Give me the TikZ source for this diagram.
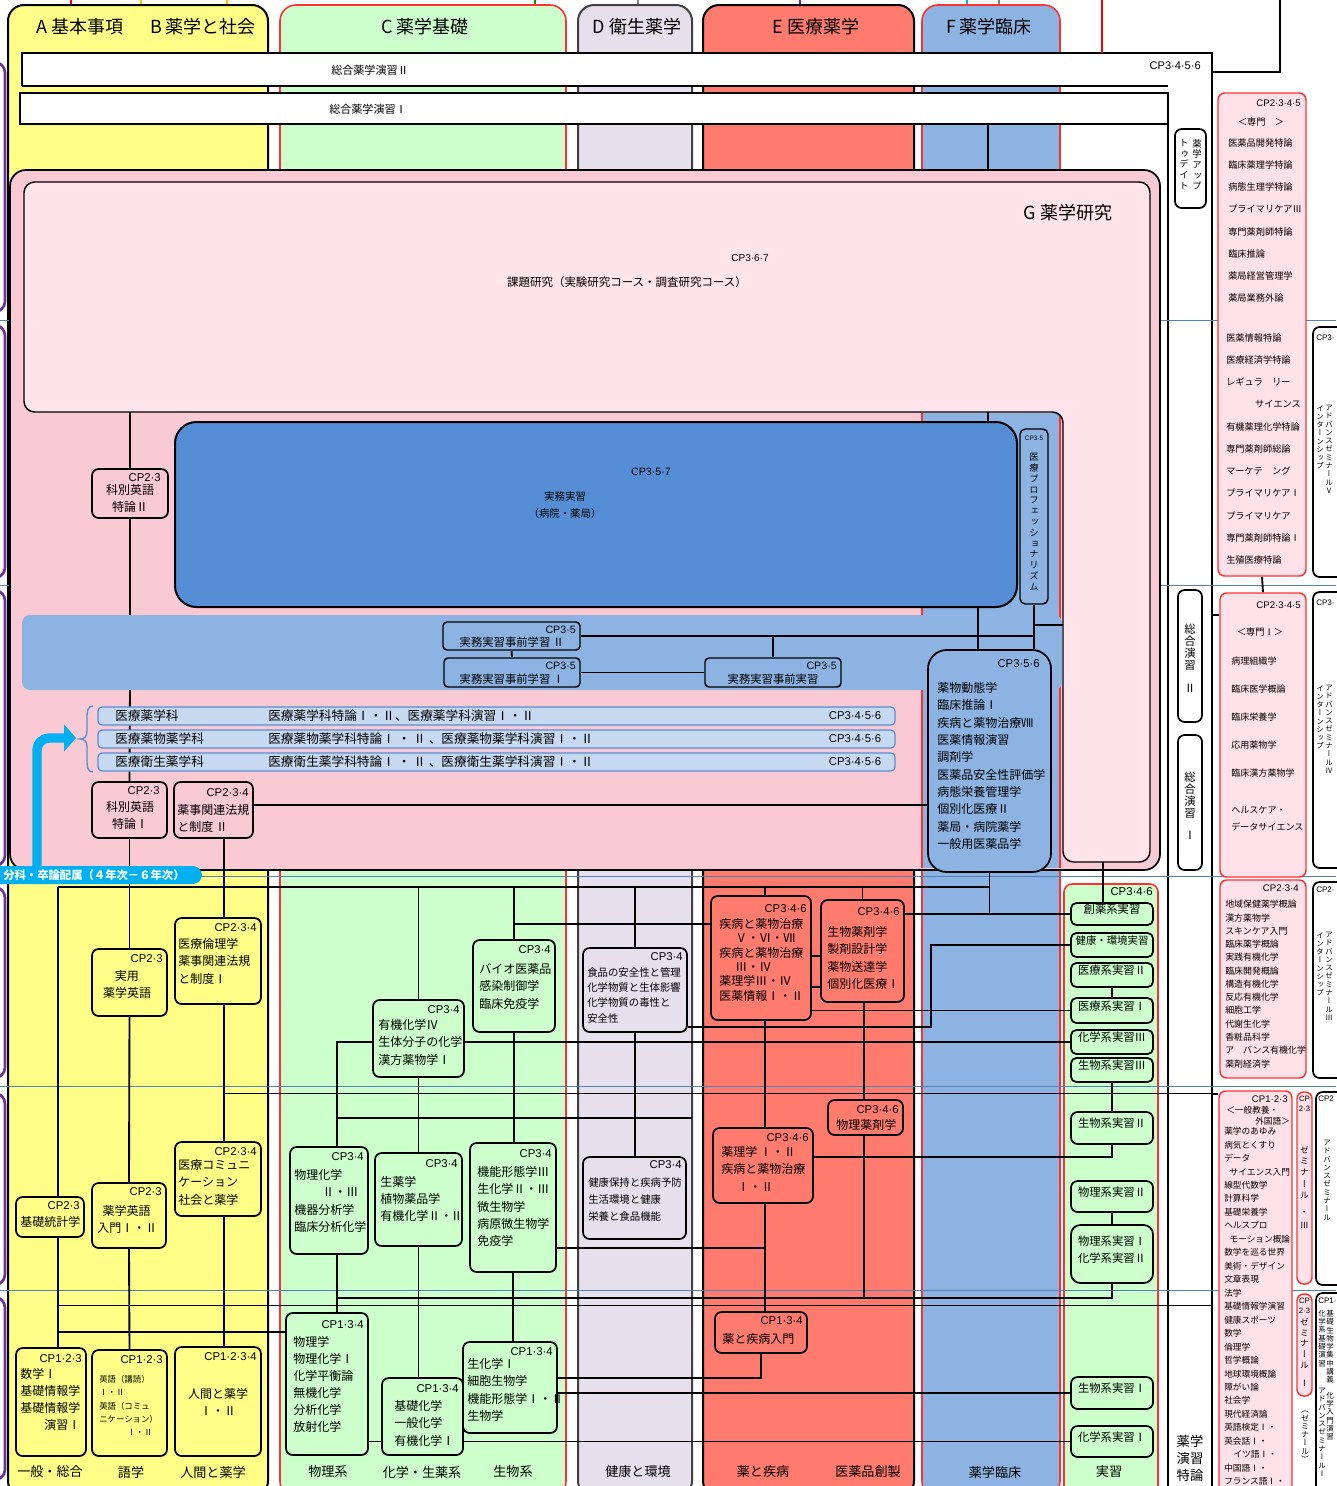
\documentclass[tikz,border=0pt]{standalone}
\usepackage{fontspec}
\setmainfont{Noto Sans CJK JP}
\newfontfamily\latf{Liberation Sans}
\newfontfamily\vjp[RawFeature=+vert]{Noto Sans CJK JP}
\usetikzlibrary{fit,arrows.meta}
\pgfdeclarelayer{back}
\pgfdeclarelayer{mid}
\pgfsetlayers{back,mid,main}
\definecolor{cYel}{HTML}{FFFF88}
\definecolor{cGrn}{HTML}{CCFFCC}
\definecolor{cLav}{HTML}{E5E0EC}
\definecolor{cRed}{HTML}{FF7B6E}
\definecolor{cBlu}{HTML}{8DB3E2}
\definecolor{cDBl}{HTML}{558ED5}
\definecolor{cPkG}{HTML}{F9C9D4}
\definecolor{cPkL}{HTML}{FFE4EB}
\definecolor{cPkR}{HTML}{FFE2E9}
\definecolor{cRln}{HTML}{FF3030}
\definecolor{cCyn}{HTML}{00B0F0}
\definecolor{cRow}{HTML}{C6D9F1}
\definecolor{cPur}{HTML}{7030A0}
\definecolor{cBL}{HTML}{4F81BD}
\definecolor{cOrg}{HTML}{FFC000}
\tikzset{
  ln/.style={line width=1.4pt},
  tn/.style={line width=0.75pt},
  bx/.style={draw=black, line width=1.3pt, rounded corners=5pt, inner sep=0pt, fit={#1}},
  pbx/.style={draw=cRln, line width=1.1pt, rounded corners=5pt, inner sep=0pt, fill=cPkR, fit={#1}},
  tx/.style={inner sep=0pt, align=left, anchor=north west},
  tc/.style={inner sep=0pt, align=center, anchor=center},
  cpst/.style={inner sep=0pt, anchor=east},
  hd/.style={inner sep=0pt, font=\fontsize{13.5}{15}\selectfont},
  lb/.style={inner sep=0pt, font=\fontsize{9.8}{11}\selectfont},
  vt/.style={inner sep=0pt, align=center, anchor=north},
  wcp/.style={inner sep=0pt, anchor=west, font=\latf\fontsize{6}{6.5}\selectfont},
}
\newcommand\TX[6]{\node[tx, font=\fontsize{#4}{#5}\selectfont] (#1) at (#2,#3) {#6};}
\newcommand\TC[6]{\node[tc, font=\fontsize{#4}{#5}\selectfont] (#1) at (#2,#3) {#6};}
\newcommand\CP[5]{\node[cpst, font=\latf\fontsize{#4}{#4}\selectfont] (#1) at (#2,#3) {#5};}
\newcommand\VT[6]{\node[vt, font=\vjp\fontsize{#4}{#5}\selectfont] (#1) at (#2,#3) {#6};}
\begin{document}
\begin{tikzpicture}[x=0.75pt,y=-0.75pt]
\useasboundingbox (0,0) rectangle (1336,1486);
\coordinate (x58) at (58,0);
\coordinate (x224) at (224,0);
\coordinate (x337) at (337,0);
\coordinate (x692) at (692,0);
\coordinate (x765) at (765,0);
\coordinate (x864) at (864,0);
\coordinate (x931) at (931,0);
\coordinate (x978) at (978,0);
\coordinate (x988) at (988,0);
\coordinate (x1063) at (1063,0);
\coordinate (x1103) at (1103,0);
\coordinate (x1212) at (1212,0);
\coordinate (y124) at (0,124);
\coordinate (y170) at (0,170);
\coordinate (y412) at (0,412);
\coordinate (y615) at (0,615);
\coordinate (y625) at (0,625);
\coordinate (y690) at (0,690);
\coordinate (y805) at (0,805);
\coordinate (y862) at (0,862);
\coordinate (y887) at (0,887);
\coordinate (y924) at (0,924);
\coordinate (y956) at (0,956);
\coordinate (y987) at (0,987);
\coordinate (y1027) at (0,1027);
\coordinate (y1093) at (0,1093);
\coordinate (y1094) at (0,1094);
\coordinate (y1118) at (0,1118);
\coordinate (y1157) at (0,1157);
\coordinate (y1248) at (0,1248);
\coordinate (y1298) at (0,1298);
\coordinate (y1305) at (0,1305);
\coordinate (y1332) at (0,1332);
\coordinate (y1378) at (0,1378);

% ================= BACK LAYER =================
\begin{pgfonlayer}{back}
\foreach \a/\b in {62/312,325/578,590/866,887/1078,1093/1285,1297/1480}
  \draw[cPur, line width=2pt, fill=white, rounded corners=8pt] (-40,\a) rectangle (5,\b);
\draw[line width=1.3pt, red] (71,0) -- (71,6);
\draw[line width=1.3pt, cOrg] (141,0) -- (141,6);
\draw[line width=1.3pt, cOrg] (227,0) -- (227,6);
\draw[line width=1.3pt, green!60!black] (535,0) -- (535,6);
\draw[line width=1.3pt, gray] (638,0) -- (638,6);
\draw[line width=1.3pt, cPur] (800,0) -- (800,6);
\draw[line width=1.3pt, cCyn] (967,0) -- (967,6);
\draw[line width=1.3pt, gray] (999,0) -- (999,6);
% columns
\draw[line width=1.5pt, fill=cYel, rounded corners=12pt] (8,5) rectangle (268,1497);
\draw[line width=1.2pt, draw=cRln, fill=cGrn, rounded corners=12pt] (280,5) rectangle (566,1497);
\draw[line width=1.5pt, draw=black!75, fill=cLav, rounded corners=12pt] (578,5) rectangle (692,1497);
\draw[line width=1.5pt, fill=cRed, rounded corners=12pt] (703,5) rectangle (914,1497);
\draw[line width=1.2pt, draw=cRln, fill=cBlu, rounded corners=12pt] (922,5) rectangle (1060,1497);
\draw[line width=1.2pt, draw=cRln, fill=cGrn, rounded corners=6pt] (1064,884) rectangle (1158,1497);
% sogo bars
\fill[white] (22,53) -- (1212,53) -- (1212,1497) -- (1168,1497) -- (1168,86) -- (22,86) -- cycle;
\draw[line width=1.3pt] (22,86) -- (22,53) -- (1212,53) -- (1212,1497);
\draw[line width=1.3pt] (22,86) -- (1168,86);
\fill[white] (20,93) rectangle (1168,124);
\draw[line width=1.3pt] (1168,1497) -- (1168,93) -- (20,93) -- (20,124) -- (1168,124);
\draw[line width=1.1pt, red] (1102,0) -- (1102,53);
\draw[line width=1.3pt] (1280,0) -- (1280,72) -- (1212,72);
% year lines
\foreach \y in {320,585,876,1086,1290}
  \draw[cBL, line width=0.7pt] (0,\y) -- (1336,\y);
% G region
\draw[line width=1.3pt, fill=cPkG, rounded corners=12pt] (10,170) rectangle (1160,870);
\fill[cBlu] (922,413) rectangle (1060,868);
\draw[cRln, line width=1pt] (922,413) -- (922,868) (1060,413) -- (1060,868);
\draw[line width=1.1pt, fill=cPkL, rounded corners=8pt] (24,182) -- (1150,182) -- (1150,862) -- (1063,862) -- (1063,412) -- (24,412) -- cycle;
\fill[cBlu, rounded corners=6pt] (22,615) rectangle (1062,690);
\end{pgfonlayer}

% ================= MAIN LAYER =================
\node[hd] (hA) at (80,27) {A 基本事項};
\node[hd] (hB) at (203,27) {B 薬学と社会};
\node[hd] (hC) at (425,27) {C 薬学基礎};
\node[hd] (hD) at (637,27) {D 衛生薬学};
\node[hd] (hE) at (816,27) {E 医療薬学};
\node[hd] (hF) at (989,27) {F 薬学臨床};
\TC{soII}{370}{70}{8.3}{9}{総合薬学演習Ⅱ}
\CP{cpII}{1201}{66}{8.3}{CP3·4·5·6}
\TC{soI}{368}{109}{8.3}{9}{総合薬学演習Ⅰ}

% strip boxes
\node[bx={(1175,129)(1206,208)}, fill=white] (upd) {};
\VT{upd1}{1197}{139}{7}{8}{薬\\学\\ア\\ッ\\プ}
\VT{upd2}{1184}{139}{7}{8}{ト\\ゥ\\デ\\イ\\ト}
\node[bx={(1178,590)(1202,722)}, fill=white] (sgII) {};
\VT{sgIIt}{1190}{624}{8.5}{8.8}{総\\合\\演\\習}
\TC{sgIIn}{1190}{688}{8.5}{9}{Ⅱ}
\node[bx={(1178,735)(1202,870)}, fill=white] (sgI) {};
\VT{sgIt}{1190}{772}{8.5}{8.8}{総\\合\\演\\習}
\TC{sgIn}{1190}{835}{8.5}{9}{Ⅰ}
\TC{ensh}{1190}{1458}{10}{12.75}{薬学\\演習\\特論}

% right pink boxes
\node[pbx={(1218,93)(1306,576)}] (pk1) {};
\CP{pk1c}{1301}{103}{7.2}{CP2·3·4·5}
\TC{pk1h}{1261}{122}{6.9}{8}{＜専門　＞}
\TX{pk1a}{1228}{138}{6.9}{16.7}{医薬品開発特論\\臨床薬理学特論\\病態生理学特論\\プライマリケアⅢ\\専門薬剤師特論\\臨床推論\\薬局経営管理学\\薬局業務外論}
\TX{pk1b}{1226}{333}{6.9}{16.7}{医薬情報特論\\医療経済学特論\\レギュラ　リー\\\hspace*{21.7pt}サイエンス\\有機薬理化学特論\\専門薬剤師総論\\マーケテ　ング\\プライマリケアⅠ\\プライマリケア\\専門薬剤師特論Ⅰ\\生殖医療特論}
\node[pbx={(1220,593)(1306,877)}] (pk2) {};
\CP{pk2c}{1301}{605}{7.2}{CP2·3·4·5}
\TC{pk2h}{1260}{632}{6.9}{8}{＜専門Ⅰ＞}
\TX{pk2a}{1231}{657}{6.8}{21}{病理組織学\\臨床医学概論\\臨床栄養学\\応用薬物学\\臨床漢方薬物学}
\TX{pk2b}{1231}{806}{6.8}{12.75}{ヘルスケア・\\データサイエンス}
\node[pbx={(1220,880)(1306,1078)}] (pk3) {};
\CP{pk3c}{1299}{888}{7.2}{CP2·3·4}
\TX{pk3a}{1225}{900}{6.7}{9.95}{地域保健薬学概論\\漢方薬物学\\スキンケア入門\\臨床薬学概論\\実践有機化学\\臨床開発概論\\構造有機化学\\反応有機化学\\細胞工学\\代謝生化学\\香粧品科学\\ア　バンス有機化学\\薬剤経済学}
\node[pbx={(1219,1091)(1292,1500)}] (pk4) {};
\CP{pk4c}{1288}{1099}{7.2}{CP1·2·3}
\TX{pk4h1}{1226}{1106}{6.5}{8}{＜一般教養・}
\TX{pk4h2}{1255}{1117}{6.5}{8}{外国語＞}
\TX{pk4a}{1224}{1127}{6.5}{10.1}{薬学のあゆみ\\病気とくすり\\データ\\\hspace*{4pt}サイエンス入門\\線型代数学\\計算科学\\基礎栄養学\\ヘルスプロ\\\hspace*{4pt}モーション概論\\数学を巡る世界\\美術・デザイン\\文章表現\\法学\\基礎情報学演習\\健康スポーツ\\数学\\倫理学\\哲学概論\\地球環境概論\\障がい論\\社会学\\現代経済論\\英語検定Ⅰ・\\英会話Ⅰ・\\\hspace*{7pt}イツ語Ⅰ・\\中国語Ⅰ・\\フランス語Ⅰ・}
\node[pbx={(1297,1092)(1312,1284)}] (pk5) {};
\TC{pk5c}{1304.5}{1104}{5.8}{7.5}{\latf CP\\\latf 2·3}
\VT{pk5t}{1304.5}{1146}{6.5}{8.4}{ゼ\\ミ\\ナ\\ー\\ル}
\VT{pk5u}{1304.5}{1211}{6.5}{9.75}{・\\Ⅲ}
\node[pbx={(1297,1294)(1312,1396)}] (pk6) {};
\TC{pk6c}{1304.5}{1306}{5.8}{7.5}{\latf CP\\\latf 2·3}
\VT{pk6t}{1304.5}{1318}{6.5}{8}{ゼ\\ミ\\ナ\\ー\\ル}
\TC{pk6u}{1304.5}{1383}{6.5}{8}{Ⅰ}
\VT{pk7}{1305}{1411}{6}{6.2}{（\\ゼ\\ミ\\ナ\\ー\\ル\\）}

% right white boxes (cut off by the page edge)
\node[bx={(1313,327)(1370,577)}, fill=white] (wb1) {};
\node[wcp] (wb1c) at (1316,338) {CP3·};
\VT{wb1a}{1320}{405}{5.6}{6.2}{イ\\ン\\タ\\ー\\ン\\シ\\ッ\\プ}
\VT{wb1b}{1329}{405}{5.6}{6.2}{ア\\ド\\バ\\ン\\ス\\ゼ\\ミ\\ナ\\ー\\ル\\Ⅴ}
\node[bx={(1313,592)(1370,868)}, fill=white] (wb2) {};
\node[wcp] (wb2c) at (1316,603) {CP3·};
\VT{wb2a}{1320}{685}{5.6}{6.2}{イ\\ン\\タ\\ー\\ン\\シ\\ッ\\プ}
\VT{wb2b}{1329}{685}{5.6}{6.2}{ア\\ド\\バ\\ン\\ス\\ゼ\\ミ\\ナ\\ー\\ル\\Ⅳ}
\node[bx={(1313,882)(1370,1078)}, fill=white] (wb3) {};
\node[wcp] (wb3c) at (1316,890) {CP2·};
\VT{wb3a}{1320}{932}{5.6}{6.2}{イ\\ン\\タ\\ー\\ン\\シ\\ッ\\プ}
\VT{wb3b}{1329}{932}{5.6}{6.2}{ア\\ド\\バ\\ン\\ス\\ゼ\\ミ\\ナ\\ー\\ル\\Ⅲ}
\node[bx={(1316,1092)(1370,1285)}, fill=white] (wb4) {};
\node[wcp] (wb4c) at (1318,1099) {CP2};
\VT{wb4a}{1327}{1140}{5.6}{6.2}{ア\\ド\\バ\\ン\\ス\\ゼ\\ミ\\ナ\\ー\\ル}
\node[bx={(1316,1293)(1370,1495)}, fill=white] (wb5) {};
\node[wcp] (wb5c) at (1318,1301) {CP1·};
\VT{wb5a}{1322}{1310}{5.6}{6.2}{化\\学\\系\\基\\礎\\演\\習}
\VT{wb5b}{1330}{1310}{5.6}{6.2}{基\\礎\\生\\物\\学\\集\\中\\講\\義}
\VT{wb5d}{1322}{1388}{5.6}{6.2}{ア\\ド\\バ\\ン\\ス\\ゼ\\ミ\\ナ\\ー\\ル\\Ⅰ}
\VT{wb5e}{1330}{1392}{5.6}{6.2}{化\\学\\入\\門\\演\\習}

% G texts
\node[hd] (gt) at (1068,213) {G 薬学研究};
\node[inner sep=0pt, font=\latf\fontsize{7.5}{8}\selectfont] (gcp) at (750,258) {CP3·6·7};
\TC{gk}{627}{282}{8.6}{9}{課題研究（実験研究コース・調査研究コース）}

% G boxes
\node[bx={(92,469)(168,518)}, fill=cPkG] (kbe2) {};
\CP{kbe2c}{161}{478}{8.5}{CP2·3}
\TC{kbe2t}{130}{498}{9}{12.75}{科別英語\\特論Ⅱ}
\node[bx={(175,422)(1017,607)}, fill=cDBl, rounded corners=16pt, line width=1.5pt] (jmj) {};
\node[inner sep=0pt, font=\latf\fontsize{8}{8}\selectfont] (jmjc) at (651,472) {CP3·5·7};
\TC{jmjt}{565}{505}{7.8}{12.75}{実務実習\\（病院・薬局）}
\node[bx={(1020,429)(1048,604)}, fill=cBlu, rounded corners=4pt, line width=1.1pt] (prof) {};
\node[inner sep=0pt, font=\latf\fontsize{4.8}{5}\selectfont] (profc) at (1034,438) {CP3·5};
\VT{proft}{1034}{453}{7}{8.1}{医\\療\\プ\\ロ\\フ\\ェ\\ッ\\シ\\ョ\\ナ\\リ\\ズ\\ム}
\node[bx={(443,622)(580,650)}, fill=cBlu, rounded corners=3pt, line width=1.1pt] (jzg2) {};
\CP{jzg2c}{576}{630}{8}{CP3·5}
\TC{jzg2t}{512}{642}{8.5}{9}{実務実習事前学習 Ⅱ}
\node[bx={(444,658)(580,687)}, fill=cBlu, rounded corners=3pt, line width=1.1pt] (jzg1) {};
\CP{jzg1c}{576}{666}{8}{CP3·5}
\TC{jzg1t}{512}{679}{8.5}{9}{実務実習事前学習 Ⅰ}
\node[bx={(705,658)(841,687)}, fill=cBlu, rounded corners=3pt, line width=1.1pt] (jzj) {};
\CP{jzjc}{837}{666}{8}{CP3·5}
\TC{jzjt}{773}{679}{8.5}{9}{実務実習事前実習}
\node[bx={(928,650)(1051,872)}, fill=cBlu, rounded corners=14pt] (c356) {};
\CP{c356c}{1040}{664}{8.5}{CP3·5·6}
\TX{c356t}{937}{682}{9}{13}{薬物動態学\\臨床推論Ⅰ\\疾病と薬物治療Ⅷ\\医薬情報演習\\調剤学\\医薬品安全性評価学\\病態栄養管理学\\個別化医療Ⅱ\\薬局・病院薬学\\一般用医薬品学}
% rows
\node[draw=cDBl, line width=0.9pt, fill=cRow, rounded corners=3pt, inner sep=0pt, fit={(98,707)(895,725)}] (r1) {};
\node[draw=cDBl, line width=0.9pt, fill=cRow, rounded corners=3pt, inner sep=0pt, fit={(98,730)(895,748)}] (r2) {};
\node[draw=cDBl, line width=0.9pt, fill=cRow, rounded corners=3pt, inner sep=0pt, fit={(98,753)(895,771)}] (r3) {};
\node[inner sep=0pt, anchor=west, font=\fontsize{9.5}{10}\selectfont] (r1a) at (115,716) {医療薬学科};
\node[inner sep=0pt, anchor=west, font=\fontsize{9.5}{10}\selectfont] (r1b) at (268,716) {医療薬学科特論Ⅰ・Ⅱ、医療薬学科演習Ⅰ・Ⅱ};
\node[inner sep=0pt, font=\latf\fontsize{8.5}{9}\selectfont] (r1c) at (855,716) {CP3·4·5·6};
\node[inner sep=0pt, anchor=west, font=\fontsize{9.5}{10}\selectfont] (r2a) at (115,739) {医療薬物薬学科};
\node[inner sep=0pt, anchor=west, font=\fontsize{9.5}{10}\selectfont] (r2b) at (268,739) {医療薬物薬学科特論Ⅰ ・ Ⅱ 、医療薬物薬学科演習Ⅰ・Ⅱ};
\node[inner sep=0pt, font=\latf\fontsize{8.5}{9}\selectfont] (r2c) at (855,739) {CP3·4·5·6};
\node[inner sep=0pt, anchor=west, font=\fontsize{9.5}{10}\selectfont] (r3a) at (115,762) {医療衛生薬学科};
\node[inner sep=0pt, anchor=west, font=\fontsize{9.5}{10}\selectfont] (r3b) at (268,762) {医療衛生薬学科特論Ⅰ ・ Ⅱ 、医療衛生薬学科演習Ⅰ・Ⅱ};
\node[inner sep=0pt, font=\latf\fontsize{8.5}{9}\selectfont] (r3c) at (855,762) {CP3·4·5·6};
\draw[cDBl, line width=1pt] (93,706) .. controls (87,706) and (87,712) .. (87,720) -- (87,731) .. controls (87,737) and (84,739) .. (80,739) .. controls (84,739) and (87,741) .. (87,747) -- (87,758) .. controls (87,766) and (87,772) .. (93,772);
\node[bx={(92,782)(167,838)}, fill=cPkG] (kbe1) {};
\CP{kbe1c}{160}{791}{8.5}{CP2·3}
\TC{kbe1t}{130}{815}{9}{12.75}{科別英語\\特論Ⅰ}
\node[bx={(174,782)(253,838)}, fill=cPkG] (yjh2) {};
\CP{yjh2c}{249}{793}{8.5}{CP2·3·4}
\TX{yjh2t}{177}{804}{9}{12.75}{薬事関連法規\\と制度 Ⅱ}
% cyan arrow + label
\coordinate (arrS) at (37,872);
\coordinate (arrE) at (76,738);
\draw[cCyn, line width=7pt, rounded corners=9pt, -{Triangle[length=9pt,width=20pt]}] (arrS) |- (arrE);
\node[fill=cCyn, rounded corners=7pt, inner sep=0pt, fit={(-12,866)(202,884)}] (cyl) {};
\node[inner sep=0pt, anchor=west, text=white, font=\bfseries\fontsize{8.5}{9}\selectfont] (cylt) at (3,875) {分科・卒論配属（４年次－６年次）};

% ===== lower boxes: yellow =====
\node[bx={(92,949)(167,1016)}, fill=cYel] (jyo) {};
\CP{jyoc}{163}{959}{8.5}{CP2·3}
\TC{jyot}{127}{984}{9}{12.75}{実用\\薬学英語}
\node[bx={(175,918)(261,1004)}, fill=cYel] (rin) {};
\CP{rinc}{257}{928}{8.5}{CP2·3·4}
\TX{rint}{178}{938}{9}{13.1}{医療倫理学\\薬事関連法規\\と制度Ⅰ}
\node[bx={(175,1142)(261,1216)}, fill=cYel] (com) {};
\CP{comc}{257}{1152}{8.5}{CP2·3·4}
\TX{comt}{178}{1159}{9}{13.1}{医療コミュニ\\ケーション\\社会と薬学}
\node[bx={(16,1197)(84,1237)}, fill=cYel] (tok) {};
\CP{tokc}{80}{1206}{8.5}{CP2·3}
\TX{tokt}{20}{1216}{9}{10}{基礎統計学}
\node[bx={(92,1183)(166,1248)}, fill=cYel] (nyu) {};
\CP{nyuc}{162}{1192}{8.5}{CP2·3}
\TX{nyut}{97}{1205}{9}{12.75}{\hspace*{4pt}薬学英語\\入門Ⅰ・Ⅱ}
\node[bx={(16,1348)(86,1456)}, fill=cYel] (sug) {};
\CP{sugc}{82}{1359}{8.5}{CP1·2·3}
\TX{sugt}{20}{1368}{9}{12.75}{数学Ⅰ\\基礎情報学\\基礎情報学\\\hspace*{18pt}演習Ⅰ}
\node[bx={(92,1350)(167,1456)}, fill=cYel] (eig) {};
\CP{eigc}{163}{1360}{8.5}{CP1·2·3}
\TX{eigt}{99}{1375}{6.3}{10}{英語（講読）\\Ⅰ・Ⅱ\\英語（コミュ\\ニケーション）\\\hspace*{21pt}Ⅰ・Ⅱ}
\node[bx={(175,1347)(261,1456)}, fill=cYel] (nin) {};
\CP{ninc}{257}{1357}{8.5}{CP1·2·3·4}
\TC{nint}{218}{1402}{9}{13.1}{人間と薬学\\Ⅰ・Ⅱ}

% ===== green =====
\node[bx={(373,1000)(464,1077)}, fill=cGrn] (yk4) {};
\CP{yk4c}{460}{1010}{8.5}{CP3·4}
\TX{yk4t}{378}{1019}{9}{13.1}{有機化学Ⅳ\\生体分子の化学\\漢方薬物学Ⅰ}
\node[bx={(473,940)(555,1032)}, fill=cGrn] (bio) {};
\CP{bioc}{551}{950}{8.5}{CP3·4}
\TX{biot}{479}{963}{9}{13}{バイオ医薬品\\感染制御学\\臨床免疫学}
\node[bx={(290,1147)(368,1254)}, fill=cGrn] (bk) {};
\CP{bkc}{364}{1157}{8.5}{CP3·4}
\TX{bkt}{294}{1169}{9}{13.1}{物理化学\\\hspace*{21pt}Ⅱ・Ⅲ\\機器分析学\\臨床分析化学}
\node[bx={(375,1153)(462,1246)}, fill=cGrn] (sy) {};
\CP{syc}{458}{1164}{8.5}{CP3·4}
\TX{syt}{380}{1176}{9}{12.9}{生薬学\\植物薬品学\\有機化学Ⅱ・Ⅲ}
\node[bx={(470,1143)(556,1272)}, fill=cGrn] (kk3) {};
\CP{kk3c}{552}{1154}{8.5}{CP3·4}
\TX{kk3t}{477}{1166}{9}{13}{機能形態学Ⅲ\\生化学Ⅱ・Ⅲ\\微生物学\\病原微生物学\\免疫学}
\node[bx={(286,1313)(368,1455)}, fill=cGrn] (but) {};
\CP{butc}{364}{1325}{8.5}{CP1·3·4}
\TX{butt}{293}{1336}{9}{12.75}{物理学\\物理化学Ⅰ\\化学平衡論\\無機化学\\分析化学\\放射化学}
\node[bx={(382,1378)(463,1455)}, fill=cGrn] (kis) {};
\CP{kisc}{459}{1389}{8.5}{CP1·3·4}
\TX{kist}{394}{1400}{9}{13.1}{基礎化学\\一般化学\\有機化学Ⅰ}
\node[bx={(463,1342)(557,1433)}, fill=cGrn] (sk1) {};
\CP{sk1c}{553}{1352}{8.5}{CP1·3·4}
\TX{sk1t}{467}{1358}{9}{13}{生化学Ⅰ\\細胞生物学\\機能形態学Ⅰ・Ⅱ\\生物学}

% ===== D =====
\node[bx={(583,948)(687,1032)}, fill=cLav] (syk) {};
\CP{sykc}{683}{957}{8.5}{CP3·4}
\TX{sykt}{587}{967}{7.8}{11.5}{食品の安全性と管理\\化学物質と生体影響\\化学物質の毒性と\\安全性}
\node[bx={(583,1157)(686,1239)}, fill=cLav] (kkh) {};
\CP{kkhc}{682}{1165}{8.5}{CP3·4}
\TX{kkht}{588}{1177}{7.8}{13.1}{健康保持と疾病予防\\生活環境と健康\\栄養と食品機能}

% ===== E =====
\node[bx={(711,896)(811,1020)}, fill=cRed] (sb5) {};
\CP{sb5c}{807}{909}{8.5}{CP3·4·6}
\TX{sb5t}{719}{918}{9}{10.8}{疾病と薬物治療\\\hspace*{12pt}Ⅴ・Ⅵ・Ⅶ\\疾病と薬物治療\\\hspace*{12pt}Ⅲ・Ⅳ\\薬理学Ⅲ・Ⅳ\\医薬情報Ⅰ・Ⅱ}
\node[bx={(821,900)(904,1002)}, fill=cRed] (bpp) {};
\CP{bppc}{900}{912}{8.5}{CP3·4·6}
\TX{bppt}{827}{926}{9}{13}{生物薬剤学\\製剤設計学\\薬物送達学\\個別化医療Ⅰ}
\node[bx={(828,1100)(903,1135)}, fill=cRed] (bty) {};
\CP{btyc}{899}{1110}{8.5}{CP3·4·6}
\TX{btyt}{836}{1119}{9}{10}{物理薬剤学}
\node[bx={(713,1128)(813,1203)}, fill=cRed] (yr1) {};
\CP{yr1c}{809}{1138}{8.5}{CP3·4·6}
\TX{yr1t}{721}{1146}{9}{13.1}{薬理学 Ⅰ・Ⅱ\\疾病と薬物治療\\\hspace*{12pt}Ⅰ・Ⅱ}
\node[bx={(715,1312)(807,1353)}, fill=cRed] (kny) {};
\CP{knyc}{803}{1321}{8.5}{CP1·3·4}
\TX{knyt}{722}{1333}{9}{10}{薬と疾病入門}

% ===== jisshu column =====
\CP{jsc}{1153}{892}{8.5}{CP3·4·6}
\node[bx={(1071,903)(1153,925)}, fill=cGrn, rounded corners=4pt, font=\fontsize{8.5}{9}\selectfont] (skj) {創薬系実習};
\node[bx={(1071,933)(1153,957)}, fill=cGrn, rounded corners=4pt, font=\fontsize{7.8}{9}\selectfont] (kkj) {健康・環境実習};
\node[bx={(1071,963)(1153,987)}, fill=cGrn, rounded corners=4pt, font=\fontsize{8.5}{9}\selectfont] (ir2) {医療系実習Ⅱ};
\node[bx={(1071,998)(1153,1023)}, fill=cGrn, rounded corners=4pt, font=\fontsize{8.5}{9}\selectfont] (ir1) {医療系実習Ⅰ};
\node[bx={(1071,1030)(1153,1054)}, fill=cGrn, rounded corners=4pt, font=\fontsize{8.5}{9}\selectfont] (kg3) {化学系実習Ⅲ};
\node[bx={(1071,1058)(1153,1082)}, fill=cGrn, rounded corners=4pt, font=\fontsize{8.5}{9}\selectfont] (sb3) {生物系実習Ⅲ};
\node[bx={(1071,1112)(1153,1144)}, fill=cGrn, rounded corners=5pt, font=\fontsize{8.5}{9}\selectfont] (sb2) {生物系実習Ⅱ};
\node[bx={(1071,1181)(1153,1212)}, fill=cGrn, rounded corners=5pt, font=\fontsize{8.5}{9}\selectfont] (bt2) {物理系実習Ⅱ};
\node[bx={(1071,1225)(1153,1283)}, fill=cGrn, rounded corners=7pt, align=center, font=\fontsize{8.5}{12.75}\selectfont] (bt1) {物理系実習Ⅰ\\化学系実習Ⅱ};
\node[bx={(1071,1377)(1153,1409)}, fill=cGrn, rounded corners=5pt, font=\fontsize{8.5}{9}\selectfont] (sb1) {生物系実習Ⅰ};
\node[bx={(1071,1426)(1153,1457)}, fill=cGrn, rounded corners=5pt, font=\fontsize{8.5}{9}\selectfont] (kg1) {化学系実習Ⅰ};

% bottom labels
\node[lb] (lb1) at (50,1472) {一般・総合};
\node[lb] (lb2) at (131,1472) {語学};
\node[lb] (lb3) at (213,1472) {人間と薬学};
\node[lb] (lb4) at (328,1472) {物理系};
\node[lb] (lb5) at (422,1472) {化学・生薬系};
\node[lb] (lb6) at (513,1472) {生物系};
\node[lb] (lb7) at (638,1472) {健康と環境};
\node[lb] (lb8) at (763,1472) {薬と疾病};
\node[lb] (lb9) at (868,1472) {医薬品創製};
\node[lb] (lb10) at (995,1472) {薬学臨床};
\node[lb] (lb11) at (1109,1472) {実習};

% ================= MID LAYER: connectors =================
\begin{pgfonlayer}{mid}
\draw[ln] (x988 |- y124) -- (x988 |- y170);
\draw[ln] (x988 |- y412) -- (jmj.north -| x988);
\draw[ln] (kbe2.north |- y412) -- (kbe2.north);
\draw[ln] (kbe2.south) -- (kbe2.south |- y615);
\draw[ln] (kbe2.south |- y690) -- (kbe1.north);
\draw[ln] (kbe1.south) -- (jyo.north);
\draw[ln] (yjh2.south -| x224) -- (rin.north -| x224);
\draw[ln] (yjh2.east |- y805) -- (c356.west |- y805);
\draw[ln] (jzg2.south) -- (jzg1.north);
\draw[ln] (jzg1.east) -- (jzj.west);
\draw[ln] (jzg2.east) -- (jzg2.east -| prof.south);
\draw[ln] (jzj.north) -- (jzj.north |- jzg2.east);
\draw[ln] (jmj.south -| x978) -- (c356.north -| x978);
\draw[ln] (prof.south) -- (prof.south |- c356.north);
\draw[ln] (prof.south |- y625) -- (x1063 |- y625);
\draw[ln] (c356.south) -- (c356.south |- skj.west);
\draw[ln] (bpp.east |- skj.west) -- (skj.west);
\draw[ln] (x1103 |- y862) -- (skj.north -| x1103);
\draw[ln] (pk1.south) -- (pk2.north);
\draw[ln] (x1212 |- y615) -- (pk2.west |- y615);
\draw[ln] (x1212 |- y1094) -- (pk4.west |- y1094);
% lower trunk
\draw[ln] (x58 |- y887) -- (c356.south |- y887);
\draw[ln] (x58 |- y887) -- (tok.north -| x58);
\draw[ln] (tok.south -| x58) -- (sug.north -| x58);
\draw[ln] (jyo.south) -- (nyu.north);
\draw[ln] (nyu.south) -- (eig.north);
\draw[ln] (rin.south -| x224) -- (com.north -| x224);
\draw[ln] (com.south -| x224) -- (nin.north -| x224);
\draw[ln] (yk4.north |- y887) -- (yk4.north);
\draw[ln] (yk4.south) -- (yk4.south |- sy.north);
\draw[ln] (sy.south) -- (sy.south |- kis.north);
\draw[ln] (bio.north |- y887) -- (bio.north);
\draw[ln] (bio.south) -- (bio.south |- kk3.north);
\draw[ln] (kk3.south) -- (kk3.south |- sk1.north);
\draw[ln] (syk.north |- y887) -- (syk.north);
\draw[ln] (syk.south) -- (syk.south |- kkh.north);
\draw[ln] (x765 |- y887) -- (sb5.north -| x765);
\draw[ln] (sb5.south -| x765) -- (yr1.north -| x765);
\draw[ln] (yr1.south -| x765) -- (kny.north -| x765);
\draw[ln] (bpp.north |- y887) -- (bpp.north);
\draw[ln] (bpp.south -| x864) -- (bty.north -| x864);
\draw[ln] (bty.south -| x864) -- (x864 |- y1298);
\draw[ln] (bio.north |- y924) -- (sb5.west |- y924);
\draw[ln] (kkj.west) -- (kkj.west -| x931) -- (x931 |- y1027) -- (syk.east |- y1027);
\draw[ln] (sb5.east |- ir1.west) -- (ir1.west);
\draw[ln] (sb5.east |- y956) -- (bpp.west |- y956);
\draw[ln] (sb5.east |- y987) -- (bpp.west |- y987);
\draw[ln] (yk4.east |- kg3.west) -- (kg3.west);
\draw[ln] (yk4.west |- kg3.west) -- (x337 |- kg3.west) -- (bk.north -| x337);
\draw[ln] (bk.south -| x337) -- (but.north -| x337);
\draw[ln] (x337 |- y1118) -- (x692 |- y1118);
\draw[tn] (x224 |- y1093) -- (x1212 |- y1093);
\draw[ln] (yr1.east |- y1157) -| (sb2.south);
\draw[ln] (kk3.east |- y1248) -- (x765 |- y1248);
\draw[ln] (x337 |- y1298) -| (bt1.south);
\draw[tn] (x58 |- y1305) -- (x1212 |- y1305);
\draw[ln] (x58 |- y1332) -- (but.west |- y1332);
\draw[ln] (kny.south) |- (sk1.east |- y1378);
\draw[ln] (sk1.east |- sb1.west) -- (sb1.west);
\draw[ln] (but.east |- kg1.west) -- (kg1.west);
\draw[ln] (ir2.south) -- (ir1.north);
\draw[ln] (sb3.south) -- (sb2.north);
\draw[ln] (bt2.south) -- (bt1.north);
\end{pgfonlayer}
\end{tikzpicture}
\end{document}
